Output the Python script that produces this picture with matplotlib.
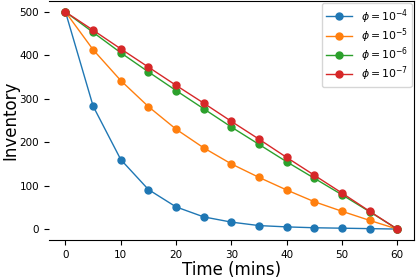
import numpy as np
import matplotlib.pyplot as plt

time = [0, 5, 10, 15, 20, 25, 30, 35, 40, 45, 50, 55, 60]
inv_1e4 = [500, 283, 160, 91, 51, 28, 16, 8, 5, 3, 2, 1, 0]
inv_1e5 = [500, 413, 342, 282, 230, 187, 150, 119, 90, 63, 41, 20, 0]
inv_1e6 = [500, 453, 406, 362, 319, 277, 235, 195, 155, 117, 79, 40, 0]
inv_1e7 = [500, 458, 415, 373, 331, 290, 248, 207, 165, 124, 83, 41, 0]
labels = [r'$\phi=10^{-4}$', r'$\phi=10^{-5}$', r'$\phi=10^{-6}$', r'$\phi=10^{-7}$']

fig = plt.figure(figsize=(4.18, 2.78), dpi=100)
ax = fig.add_axes([0.117, 0.137, 0.873, 0.859])

for series, lab in zip([inv_1e4, inv_1e5, inv_1e6, inv_1e7], labels):
    ax.plot(time, series, marker='o', markersize=5, linewidth=1, label=lab)

ax.spines['left'].set_visible(False)
ax.set_xticks([0, 10, 20, 30, 40, 50, 60])
ax.set_yticks([0, 100, 200, 300, 400, 500])
ax.tick_params(labelsize=7.5)
ax.set_xlabel('Time (mins)', fontsize=12, labelpad=1)
ax.set_ylabel('Inventory', fontsize=12, labelpad=0)
ax.legend(loc='upper right', fontsize=7.8, labelspacing=0.05, handlelength=2.4,
          borderpad=0.35, borderaxespad=0.2)

fig.savefig('out.png', dpi=100)
